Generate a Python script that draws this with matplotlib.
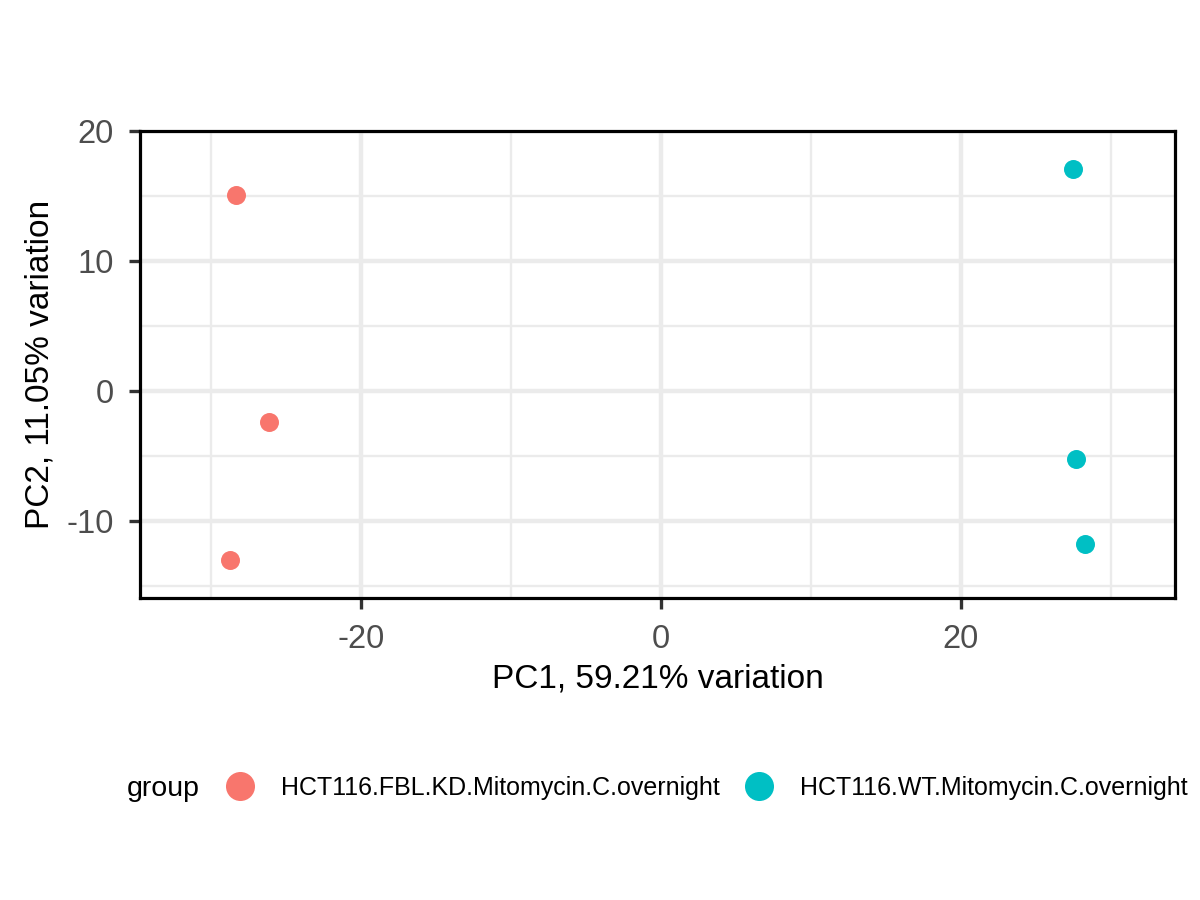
import matplotlib
matplotlib.use('Agg')
import matplotlib.pyplot as plt
from matplotlib.lines import Line2D
from matplotlib.ticker import MultipleLocator

plt.rcParams['font.family'] = ['Liberation Sans', 'DejaVu Sans']
plt.rcParams['axes.unicode_minus'] = False

# PCA scores
groups = ['HCT116.FBL.KD.Mitomycin.C.overnight', 'HCT116.WT.Mitomycin.C.overnight']
colors = ['#F8766D', '#00BFC4']
pc1_kd = [-28.3, -26.1, -28.7]
pc2_kd = [15.1, -2.35, -13.0]
pc1_wt = [27.45, 27.65, 28.25]
pc2_wt = [17.1, -5.2, -11.8]
xlab = 'PC1, 59.21% variation'
ylab = 'PC2, 11.05% variation'

fig = plt.figure(figsize=(12, 9), dpi=100)
ax = fig.add_axes([140 / 1200, 1 - 598 / 900, 1035 / 1200, 467 / 900])

ax.scatter(pc1_kd, pc2_kd, s=187, color=colors[0], linewidths=0, zorder=3)
ax.scatter(pc1_wt, pc2_wt, s=187, color=colors[1], linewidths=0, zorder=3)

ax.set_xlim(-34.73, 34.27)
ax.set_ylim(-15.92, 20.0)
ax.xaxis.set_major_locator(MultipleLocator(20))
ax.xaxis.set_minor_locator(MultipleLocator(10))
ax.yaxis.set_major_locator(MultipleLocator(10))
ax.yaxis.set_minor_locator(MultipleLocator(5))

ax.set_axisbelow(True)
ax.grid(which='major', color='#EBEBEB', lw=3.2)
ax.grid(which='minor', color='#EBEBEB', lw=1.7)
for sp in ax.spines.values():
    sp.set_linewidth(2.3)
    sp.set_color('black')
ax.tick_params(which='major', length=8, width=2.4, color='#333333',
               labelcolor='#4D4D4D', labelsize=23.5, pad=11)
ax.tick_params(which='minor', length=0)

ax.set_xlabel(xlab, fontsize=24)
ax.set_ylabel(ylab, fontsize=24)
ax.xaxis.set_label_coords(0.5, (598 - 679) / 467)
ax.xaxis.label.set_va('center')
ax.yaxis.set_label_coords((40 - 140) / 1035, 0.5)
ax.yaxis.label.set_va('center')

fig.text(127 / 1200, 1 - 789 / 900, 'group', fontsize=20.5, ha='left', va='center')
handles = [Line2D([], [], ls='none', marker='o', ms=20.9, color=c, mew=0) for c in colors]
fig.legend(handles, groups, loc='center left', bbox_to_anchor=(227.5 / 1200, 1 - 788 / 900),
           ncol=2, frameon=False, fontsize=18, handlelength=1.0, handletextpad=1.14,
           columnspacing=1.06, borderpad=0, borderaxespad=0)

fig.savefig('out.png', dpi=100)
